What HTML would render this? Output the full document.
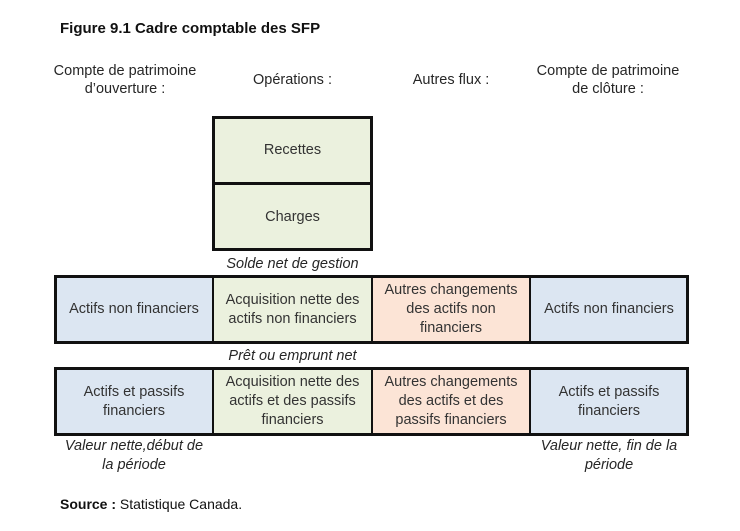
<!DOCTYPE html>
<html><head><meta charset="utf-8"><style>
body{margin:0;width:740px;height:531px;background:#fff;position:relative;font-family:"Liberation Sans",Arial,sans-serif;color:#262626;overflow:hidden}
.a{position:absolute;text-align:center;font-size:14.5px;line-height:18px}
.b{position:absolute;box-sizing:border-box;display:flex;align-items:center;justify-content:center;text-align:center;font-size:14.5px;line-height:19px;color:#333}
.i{font-style:italic}
.bl{background:#dce6f2}.gr{background:#ebf1de}.or{background:#fce4d6}
.ln{position:absolute;background:#111}
</style></head><body>
<div style="position:absolute;left:60px;top:20px;font-size:15px;font-weight:bold;color:#111">Figure 9.1 Cadre comptable des SFP</div>
<div class="a" style="left:46px;top:62px;width:158px">Compte de patrimoine<br>d’ouverture :</div>
<div class="a" style="left:213px;top:71px;width:159px">Opérations :</div>
<div class="a" style="left:372px;top:71px;width:158px">Autres flux :</div>
<div class="a" style="left:528px;top:62px;width:160px">Compte de patrimoine<br>de clôture :</div>

<div class="b gr" style="left:213px;top:117px;width:159px;height:133px"></div>
<div class="b" style="left:213px;top:117px;width:159px;height:67px">Recettes</div>
<div class="b" style="left:213px;top:184px;width:159px;height:66px">Charges</div>
<div class="ln" style="left:212px;top:116px;width:161px;height:3px"></div>
<div class="ln" style="left:212px;top:182px;width:161px;height:3px"></div>
<div class="ln" style="left:212px;top:248px;width:161px;height:3px"></div>
<div class="ln" style="left:212px;top:116px;width:3px;height:135px"></div>
<div class="ln" style="left:370px;top:116px;width:3px;height:135px"></div>
<div class="a i" style="left:213px;top:255px;width:159px">Solde net de gestion</div>

<div class="b bl" style="left:55px;top:276px;width:158px;height:67px">Actifs non financiers</div>
<div class="b gr" style="left:213px;top:276px;width:159px;height:67px">Acquisition nette des<br>actifs non financiers</div>
<div class="b or" style="left:372px;top:276px;width:158px;height:67px">Autres changements<br>des actifs non<br>financiers</div>
<div class="b bl" style="left:530px;top:276px;width:158px;height:67px">Actifs non financiers</div>
<div class="ln" style="left:54px;top:275px;width:635px;height:3px"></div>
<div class="ln" style="left:54px;top:341px;width:635px;height:3px"></div>
<div class="ln" style="left:54px;top:275px;width:3px;height:69px"></div>
<div class="ln" style="left:212px;top:275px;width:2px;height:69px"></div>
<div class="ln" style="left:371px;top:275px;width:2px;height:69px"></div>
<div class="ln" style="left:529px;top:275px;width:2px;height:69px"></div>
<div class="ln" style="left:686px;top:275px;width:3px;height:69px"></div>
<div class="a i" style="left:213px;top:347px;width:159px">Prêt ou emprunt net</div>

<div class="b bl" style="left:55px;top:368px;width:158px;height:67px">Actifs et passifs<br>financiers</div>
<div class="b gr" style="left:213px;top:368px;width:159px;height:67px">Acquisition nette des<br>actifs et des passifs<br>financiers</div>
<div class="b or" style="left:372px;top:368px;width:158px;height:67px">Autres changements<br>des actifs et des<br>passifs financiers</div>
<div class="b bl" style="left:530px;top:368px;width:158px;height:67px">Actifs et passifs<br>financiers</div>
<div class="ln" style="left:54px;top:367px;width:635px;height:3px"></div>
<div class="ln" style="left:54px;top:433px;width:635px;height:3px"></div>
<div class="ln" style="left:54px;top:367px;width:3px;height:69px"></div>
<div class="ln" style="left:212px;top:367px;width:2px;height:69px"></div>
<div class="ln" style="left:371px;top:367px;width:2px;height:69px"></div>
<div class="ln" style="left:529px;top:367px;width:2px;height:69px"></div>
<div class="ln" style="left:686px;top:367px;width:3px;height:69px"></div>

<div class="a i" style="left:52px;top:437px;width:164px;line-height:19px">Valeur nette,début de<br>la période</div>
<div class="a i" style="left:527px;top:437px;width:164px;line-height:19px">Valeur nette, fin de la<br>période</div>
<div style="position:absolute;left:60px;top:496px;font-size:14px;color:#111"><b>Source :</b> Statistique Canada.</div>
</body></html>
